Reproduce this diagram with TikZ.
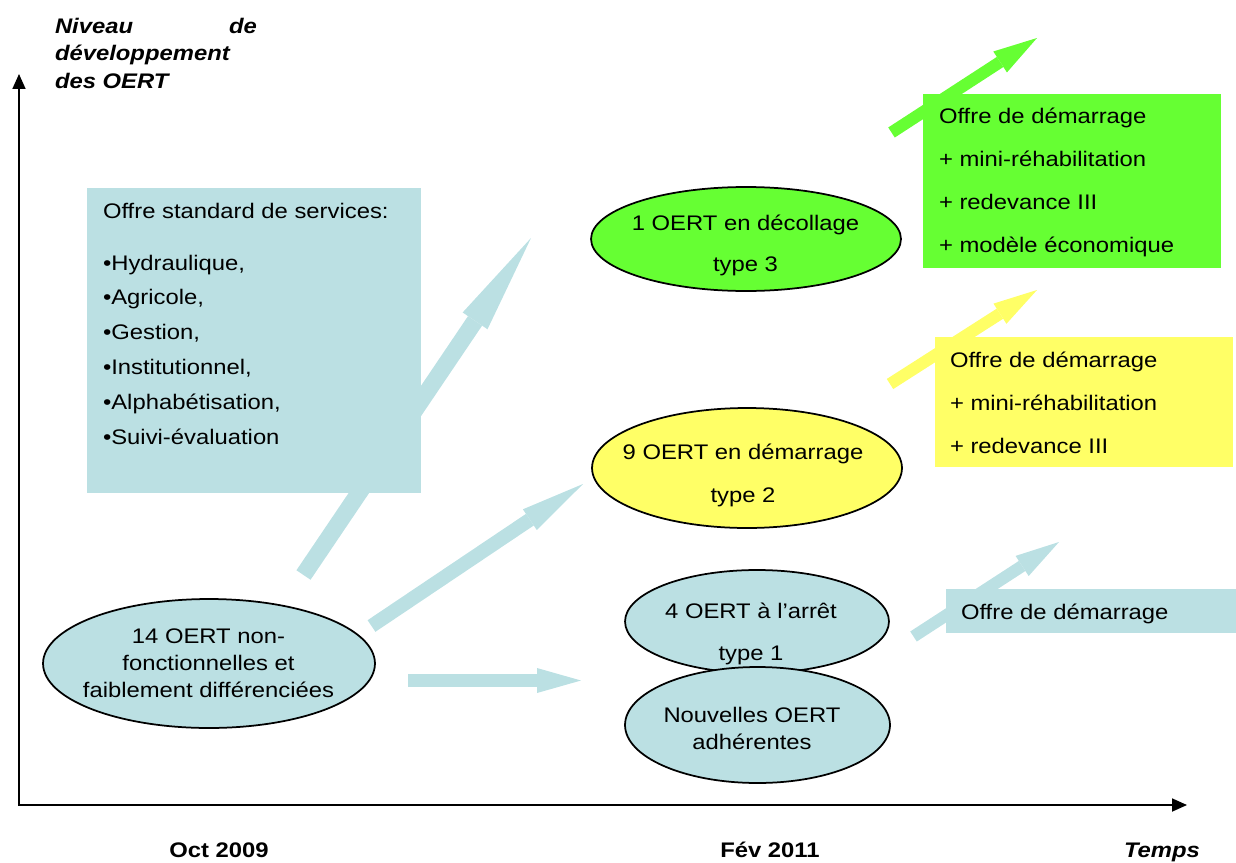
\documentclass[tikz,border=0pt]{standalone}
\usepackage{fontspec}
\setmainfont[FakeStretch=1.13]{Liberation Sans}
\usetikzlibrary{arrows.meta,shapes.geometric}
\definecolor{tealfill}{RGB}{187,224,227}
\definecolor{greenfill}{RGB}{102,255,51}
\definecolor{yellowfill}{RGB}{255,255,102}
\begin{document}
\begin{tikzpicture}[x=0.02cm,y=-0.02cm,
  every node/.style={inner sep=0pt,outer sep=0pt},
  ell/.style={ellipse,draw=black,line width=0.035cm},
  panel/.style={rectangle,draw=none,anchor=north west},
  blk/.style n args={4}{draw=#1,line width=#2,-{Triangle[length=#4,width=#3,line width=0pt]}},
  axisline/.style={draw=black,line width=0.035cm,{Triangle[length=0.3cm,width=0.26cm]}-{Triangle[length=0.3cm,width=0.26cm]}},
  lbl/.style={font=\fontsize{12}{#1}\selectfont},
  bold/.style={font=\fontsize{12}{14}\selectfont\bfseries},
  bolditalic/.style={font=\fontsize{12}{14}\selectfont\bfseries\itshape}]
\useasboundingbox (0,0) rectangle (1236,862);

% axes
\coordinate (o) at (19,805);
\coordinate (ytip) at (19,74);
\coordinate (xtip) at (1187,805);
\draw[axisline] (ytip) -- (o) -- (xtip);

\node[anchor=base west,font=\fontsize{12}{15.9pt}\selectfont\bfseries\itshape] (ylab) at (55,33)
  {\begin{tabular}[t]{@{}l@{}}\hbox to 4.04cm{Niveau\hfill de}\\développement\\des OERT\end{tabular}};
\node[bold,anchor=base] (t0) at (219,857) {Oct 2009};
\node[bold,anchor=base] (t1) at (770,857) {Fév 2011};
\node[bolditalic,anchor=base] (tl) at (1162,857) {Temps};

% arrow end points
\coordinate (a1s) at (303.5,575); \coordinate (a1e) at (531,238);
\coordinate (a2s) at (371.5,626); \coordinate (a2e) at (583,484);
\coordinate (a3s) at (408,680.5); \coordinate (a3e) at (581,680.5);
\coordinate (a4s) at (891.5,132.5); \coordinate (a4e) at (1037,38);
\coordinate (a5s) at (890,384); \coordinate (a5e) at (1037,290);
\coordinate (a6s) at (913.5,636.5); \coordinate (a6e) at (1059,542);

\draw[blk={tealfill}{0.34cm}{0.6cm}{2cm}] (a1s) -- (a1e);
\draw[blk={tealfill}{0.28cm}{0.5cm}{1.28cm}] (a2s) -- (a2e);
\draw[blk={tealfill}{0.26cm}{0.5cm}{0.88cm}] (a3s) -- (a3e);
\draw[blk={greenfill}{0.24cm}{0.5cm}{0.88cm}] (a4s) -- (a4e);
\draw[blk={yellowfill}{0.24cm}{0.48cm}{0.88cm}] (a5s) -- (a5e);
\draw[blk={tealfill}{0.24cm}{0.48cm}{0.88cm}] (a6s) -- (a6e);

% panels
\node[panel,fill=tealfill,minimum width=6.68cm,minimum height=6.1cm] (std) at (87,188) {};
\node[lbl=19.9pt,anchor=base west] (stdt) at (103,218)
  {\begin{tabular}[t]{@{}l@{}}Offre standard de services:\\[9.7pt]
   •Hydraulique,\\•Agricole,\\•Gestion,\\•Institutionnel,\\•Alphabétisation,\\•Suivi-évaluation\end{tabular}};

\node[panel,fill=greenfill,minimum width=5.96cm,minimum height=3.48cm] (g) at (923,94) {};
\node[lbl=24.5pt,anchor=base west] (gt) at (939,123)
  {\begin{tabular}[t]{@{}l@{}}Offre de démarrage\\+ mini-réhabilitation\\+ redevance III\\+ modèle économique\end{tabular}};

\node[panel,fill=yellowfill,minimum width=5.96cm,minimum height=2.6cm] (y) at (935,337) {};
\node[lbl=24.75pt,anchor=base west] (yt) at (950,367)
  {\begin{tabular}[t]{@{}l@{}}Offre de démarrage\\+ mini-réhabilitation\\+ redevance III\end{tabular}};

\node[panel,fill=tealfill,minimum width=5.8cm,minimum height=0.88cm] (tb) at (946,589) {};
\node[lbl=14pt,anchor=base west] (tbt) at (961,619) {Offre de démarrage};

% ellipses
\node[ell,fill=greenfill,minimum width=6.2cm,minimum height=2.08cm] (e3) at (746,239) {};
\node[lbl=23.9pt,anchor=base] (e3t) at (745.5,230)
  {\begin{tabular}[t]{@{}c@{}}1 OERT en décollage\\type 3\end{tabular}};

\node[ell,fill=yellowfill,minimum width=6.2cm,minimum height=2.4cm] (e2) at (747,468) {};
\node[lbl=24.5pt,anchor=base] (e2t) at (743,459)
  {\begin{tabular}[t]{@{}c@{}}9 OERT en démarrage\\type 2\end{tabular}};

\node[ell,fill=tealfill,minimum width=5.28cm,minimum height=2.06cm] (e1) at (757,621.5) {};
\node[lbl=23.9pt,anchor=base] (e1t) at (751,618)
  {\begin{tabular}[t]{@{}c@{}}4 OERT à l’arrêt\\type 1\end{tabular}};

\node[ell,fill=tealfill,minimum width=5.3cm,minimum height=2.32cm] (en) at (757.5,725) {};
\node[lbl=15.9pt,anchor=base] (ent) at (752,722)
  {\begin{tabular}[t]{@{}c@{}}Nouvelles OERT\\adhérentes\end{tabular}};

\node[ell,fill=tealfill,minimum width=6.64cm,minimum height=2.58cm] (e0) at (209,663.5) {};
\node[lbl=15.6pt,anchor=base] (e0t) at (208.5,643)
  {\begin{tabular}[t]{@{}c@{}}14 OERT non-\\fonctionnelles et\\faiblement différenciées\end{tabular}};
\end{tikzpicture}
\end{document}
